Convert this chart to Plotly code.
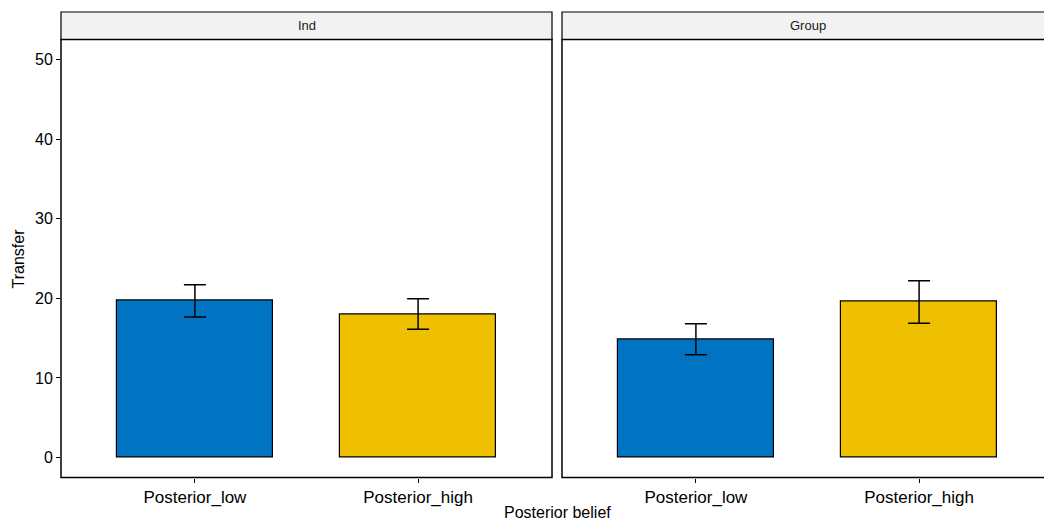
import plotly.graph_objects as go

# ---- data -------------------------------------------------------------
categories = ["Posterior_low", "Posterior_high"]
panels = ["Ind", "Group"]
transfer_ind = [19.67, 18.03]
transfer_group = [14.86, 19.54]
se_ind = [2.03, 1.92]
se_group = [1.96, 2.67]
bar_colors = ["#0073C2", "#EFC000"]
y_ticks = [0, 10, 20, 30, 40, 50]

# ---- layout geometry (pixels) -----------------------------------------
W, H = 1044, 523
FONT = "Liberation Sans, Arial, Helvetica, sans-serif"
panel_top, panel_bottom = 39.5, 477.5
strip_top = 12.0
left_x0, left_x1 = 61.0, 552.0
right_x0 = 562.0
unit_px = (left_x1 - left_x0) / 2.2          # one category step in pixels
right_x1 = right_x0 + 2.2 * unit_px            # panel runs past the page edge


def fx(p):
    return p / W


def fy(p):
    return 1 - p / H


fig = go.Figure()

series = [(transfer_ind, se_ind, "x", "y"), (transfer_group, se_group, "x2", "y2")]
for vals, errs, xa, ya in series:
    fig.add_trace(go.Bar(
        x=categories, y=vals, width=0.7,
        marker=dict(color=bar_colors, line=dict(color="black", width=1.2)),
        error_y=dict(type="data", array=errs, visible=True,
                     color="black", thickness=1.5, width=11),
        xaxis=xa, yaxis=ya, showlegend=False,
    ))

x_tick_font = dict(family=FONT, size=17, color="black")
y_tick_font = dict(family=FONT, size=16, color="black")
yrange = [-2.5, 52.5]
right_range_end = -0.6 + (W - right_x0) / unit_px

fig.update_layout(
    width=W, height=H,
    margin=dict(l=0, r=0, t=0, b=0),
    paper_bgcolor="white", plot_bgcolor="white",
    font=dict(family=FONT, color="black"),
    bargap=0,
    xaxis=dict(domain=[fx(left_x0), fx(left_x1)], range=[-0.6, 1.6],
               type="category", categoryorder="array", categoryarray=categories,
               ticks="outside", ticklen=4, tickwidth=1, tickcolor="black",
               showgrid=False, zeroline=False, showline=False,
               tickfont=x_tick_font, anchor="y"),
    xaxis2=dict(domain=[fx(right_x0), 1.0], range=[-0.6, right_range_end],
                type="category", categoryorder="array", categoryarray=categories,
                ticks="outside", ticklen=4, tickwidth=1, tickcolor="black",
                showgrid=False, zeroline=False, showline=False,
                tickfont=x_tick_font, anchor="y2"),
    yaxis=dict(domain=[fy(panel_bottom), fy(panel_top)], range=yrange,
               tickvals=y_ticks, ticks="outside", ticklen=4, tickwidth=1,
               tickcolor="black", showgrid=False, zeroline=False, showline=False,
               tickfont=y_tick_font, anchor="x"),
    yaxis2=dict(domain=[fy(panel_bottom), fy(panel_top)], range=yrange,
                matches="y", showticklabels=False, ticks="",
                showgrid=False, zeroline=False, showline=False, anchor="x2"),
)

shapes = []
# facet strips and panel frames
for x0, x1 in [(left_x0, left_x1), (right_x0, right_x1)]:
    shapes.append(dict(type="rect", xref="paper", yref="paper",
                       x0=fx(x0), x1=fx(x1), y0=fy(panel_top), y1=fy(strip_top),
                       fillcolor="#F2F2F2", line=dict(color="black", width=1.2),
                       layer="above"))
    shapes.append(dict(type="rect", xref="paper", yref="paper",
                       x0=fx(x0), x1=fx(x1), y0=fy(panel_bottom), y1=fy(panel_top),
                       fillcolor="rgba(0,0,0,0)", line=dict(color="black", width=1.5),
                       layer="above"))
fig.update_layout(shapes=shapes)

annotations = []
for name, x0, x1 in [(panels[0], left_x0, left_x1), (panels[1], right_x0, right_x1)]:
    annotations.append(dict(text=name, xref="paper", yref="paper",
                            x=fx((x0 + x1) / 2), y=fy((strip_top + panel_top) / 2),
                            showarrow=False, xanchor="center", yanchor="middle",
                            font=dict(family=FONT, size=13, color="#1A1A1A")))
annotations.append(dict(text="Transfer", xref="paper", yref="paper",
                        x=fx(18), y=fy((panel_top + panel_bottom) / 2),
                        textangle=-90, showarrow=False,
                        xanchor="center", yanchor="middle",
                        font=dict(family=FONT, size=16, color="black")))
annotations.append(dict(text="Posterior belief", xref="paper", yref="paper",
                        x=fx((left_x0 + right_x1) / 2), y=fy(512),
                        showarrow=False, xanchor="center", yanchor="middle",
                        font=dict(family=FONT, size=16, color="black")))
fig.update_layout(annotations=annotations)

fig.write_html("out.html")
